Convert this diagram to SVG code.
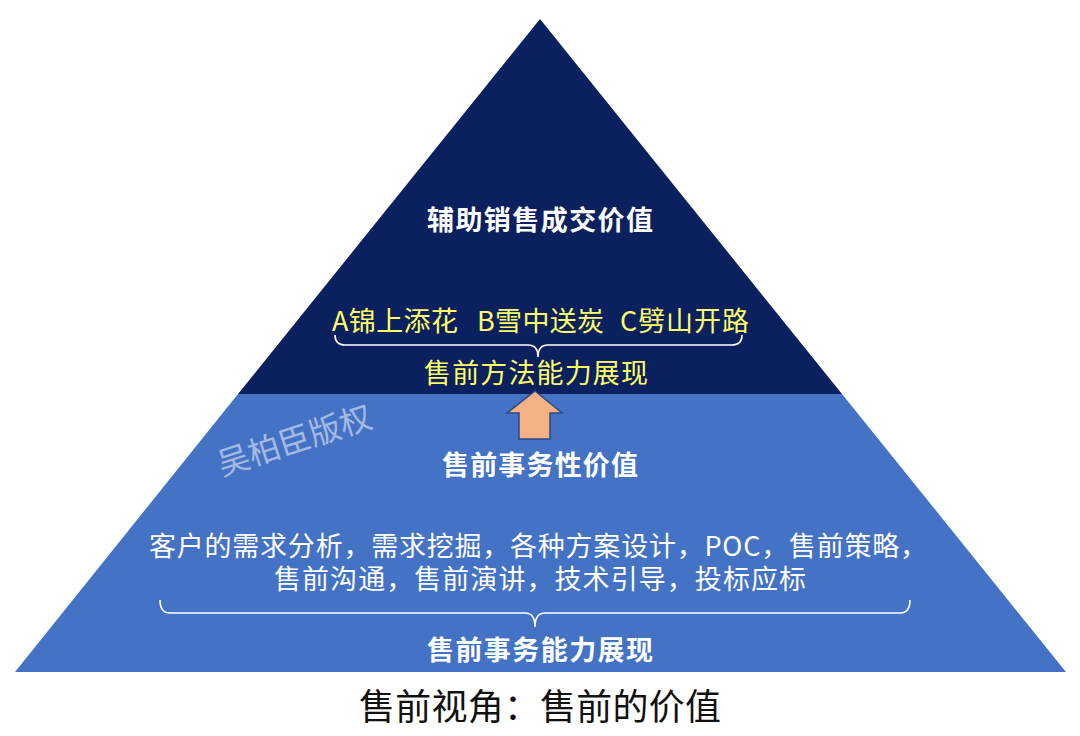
<svg xmlns="http://www.w3.org/2000/svg" width="1080" height="736" viewBox="0 0 1080 736">
<style>
.t{font-family:"Noto Sans CJK SC","Liberation Sans",sans-serif;}
.w{fill:#ffffff;}
.y{fill:#ffff66;}
.b{font-weight:bold;}
.br{fill:none;stroke:#ffffff;stroke-width:1.6;}
</style>
<rect width="1080" height="736" fill="#ffffff"/>
<g id="top-tier">
<polygon points="540,19 842,394 238,394" fill="#0b205e"/>
<text class="t w b" x="427" y="230" font-size="27" textLength="226">辅助销售成交价值</text>
<text class="t y" x="332" y="331" font-size="27" textLength="126">A锦上添花</text>
<text class="t y" x="477" y="331" font-size="27" textLength="127">B雪中送炭</text>
<text class="t y" x="620" y="331" font-size="27" textLength="129">C劈山开路</text>
<text class="t y" x="424" y="383" font-size="27" textLength="224">售前方法能力展现</text>
</g>
<g id="bottom-tier">
<polygon points="238,394 842,394 1066,672 15,672" fill="#4472c4"/>
<text class="t" x="222" y="476" font-size="32" fill="#c5d3ee" fill-opacity="0.75" transform="rotate(-18 222 476)">吴柏臣版权</text>
<text class="t w b" x="442" y="475" font-size="27" textLength="196">售前事务性价值</text>
<text class="t w" x="149" y="556" font-size="27" textLength="778">客户的需求分析，需求挖掘，各种方案设计，POC，售前策略，</text>
<text class="t w" x="274" y="589" font-size="27" textLength="532">售前沟通，售前演讲，技术引导，投标应标</text>
<text class="t w b" x="427" y="660" font-size="27" textLength="226">售前事务能力展现</text>
</g>
<g id="connectors">
<path class="br" d="M335,335 Q335,345 345,345 L528,345 Q538,345 538,357 Q538,345 548,345 L732,345 Q742,345 742,335"/>
<path class="br" d="M160,600 Q160,613 170,613 L525,613 Q535,613 535,627 Q535,613 545,613 L900,613 Q910,613 910,600"/>
<polygon id="arrow" points="535,391 562,413 550,413 550,439 519,439 519,413 507,413" fill="#f4b183" stroke="#2a4a85" stroke-width="1.5"/>
</g>
<g id="caption">
<text class="t" x="359" y="720" font-size="36" fill="#111111" textLength="362">售前视角：售前的价值</text>
</g>
</svg>
